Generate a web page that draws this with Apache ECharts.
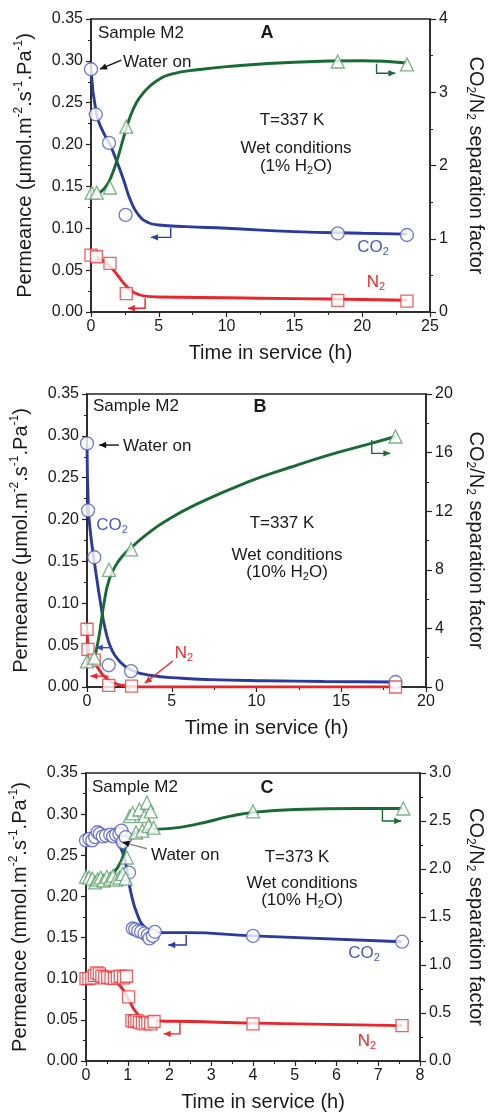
<!DOCTYPE html>
<html><head><meta charset="utf-8">
<script src="https://cdn.jsdelivr.net/npm/echarts@6/dist/echarts.min.js"></script>
<style>html,body{margin:0;padding:0;background:#fff}#c{width:496px;height:1115px}</style>
</head><body><div id="c"></div>
<script>
// ---------- DATA ----------
// Panel A : 337 K, 1% H2O
const A_co2 = [[0,0.290],[0.35,0.236],[1.33,0.202],[2.55,0.116],[18.2,0.094],[23.3,0.092]];
const A_n2  = [[0,0.068],[0.4,0.066],[1.4,0.058],[2.6,0.022],[18.2,0.014],[23.3,0.013]];
const A_sf  = [[0.05,1.63],[0.42,1.63],[1.4,1.70],[2.6,2.53],[18.2,3.42],[23.3,3.38]];
const A_co2Fit = [[0,0.290],[0.4,0.237],[0.9,0.215],[1.4,0.200],[1.9,0.180],[2.4,0.158],[2.9,0.134],[3.5,0.116],[4.2,0.107],[5,0.104],[7,0.102],[10,0.100],[15,0.096],[20,0.094],[23.3,0.093]];
const A_n2Fit  = [[0,0.068],[0.5,0.064],[1.0,0.060],[1.5,0.053],[2.0,0.043],[2.6,0.031],[3.2,0.023],[4.0,0.019],[5,0.018],[10,0.017],[15,0.016],[20,0.015],[23.3,0.014]];
const A_sfFit  = [[0.67,1.63],[1.2,1.74],[1.6,1.9],[2.0,2.12],[2.4,2.38],[2.8,2.62],[3.3,2.84],[3.9,3.0],[4.8,3.15],[6.0,3.25],[8,3.31],[10,3.35],[15,3.41],[20,3.43],[23.3,3.40]];

// Panel B : 337 K, 10% H2O
const B_co2 = [[0,0.291],[0.06,0.211],[0.43,0.155],[1.28,0.026],[2.6,0.019],[18.2,0.006]];
const B_n2  = [[0,0.069],[0.06,0.045],[0.43,0.032],[1.28,0.002],[2.63,0.001],[18.2,0.0]];
const B_sf  = [[0,1.75],[0.43,2.0],[1.3,8.0],[2.6,9.4],[18.2,17.1]];
const B_co2Fit = [[0,0.291],[0.08,0.215],[0.2,0.185],[0.43,0.150],[0.8,0.100],[1.09,0.068],[1.47,0.044],[1.96,0.030],[2.54,0.021],[3.7,0.014],[5.6,0.0104],[7.3,0.0088],[10.5,0.0075],[14,0.0066],[18.2,0.006]];
const B_n2Fit  = [[0,0.069],[0.08,0.045],[0.17,0.036],[0.6,0.024],[1.0,0.013],[1.57,0.005],[2.35,0.001],[3.2,0],[18.2,0]];
const B_sfFit  = [[0.45,2.0],[0.7,3.4],[1.0,5.7],[1.3,7.3],[1.7,8.3],[2.1,8.95],[2.6,9.5],[3.5,10.4],[4.6,11.3],[6.5,12.5],[9.5,14.0],[12,15.0],[14.3,15.85],[16.5,16.55],[18.2,17.1]];

// Panel C : 373 K, 10% H2O
const C_co2 = [[0.0,0.268],[0.08,0.270],[0.15,0.268],[0.22,0.272],[0.28,0.278],[0.33,0.276],[0.40,0.273],[0.48,0.274],[0.58,0.275],[0.65,0.273],[0.72,0.275],[0.80,0.276],[0.85,0.280],[0.88,0.266],[0.95,0.272],[1.03,0.229],[1.12,0.161],[1.18,0.160],[1.25,0.158],[1.32,0.157],[1.40,0.155],[1.48,0.153],[1.52,0.149],[1.60,0.152],[1.65,0.157],[4.0,0.152],[7.57,0.145]];
const C_n2  = [[0.0,0.100],[0.07,0.100],[0.14,0.101],[0.2,0.104],[0.26,0.107],[0.32,0.106],[0.38,0.103],[0.45,0.101],[0.52,0.102],[0.6,0.101],[0.68,0.100],[0.75,0.102],[0.82,0.103],[0.9,0.101],[0.97,0.103],[1.02,0.078],[1.1,0.049],[1.16,0.048],[1.22,0.049],[1.28,0.047],[1.35,0.046],[1.42,0.045],[1.48,0.047],[1.55,0.045],[1.63,0.048],[4.0,0.045],[7.57,0.043]];
const C_sf  = [[0.0,1.92],[0.07,1.91],[0.15,1.90],[0.22,1.86],[0.28,1.89],[0.35,1.91],[0.42,1.88],[0.5,1.92],[0.58,1.90],[0.65,1.93],[0.72,1.89],[0.8,1.91],[0.88,1.95],[0.95,1.90],[0.98,2.12],[1.05,2.55],[1.12,2.58],[1.2,2.38],[1.28,2.62],[1.35,2.40],[1.4,2.55],[1.46,2.69],[1.5,2.45],[1.55,2.60],[1.62,2.43],[4.0,2.60],[7.6,2.63]];
const C_co2Fit = [[0.6,0.274],[0.84,0.258],[0.99,0.230],[1.07,0.206],[1.23,0.178],[1.42,0.162],[1.66,0.156],[2.4,0.156],[4.0,0.152],[7.57,0.145]];
const C_n2Fit  = [[0.56,0.102],[0.84,0.090],[1.03,0.074],[1.19,0.060],[1.42,0.051],[1.66,0.049],[2.5,0.048],[4.0,0.046],[7.57,0.043]];
const C_sfFit  = [[0.64,1.95],[0.84,2.08],[0.99,2.28],[1.15,2.37],[1.5,2.41],[1.97,2.42],[2.68,2.47],[3.46,2.55],[4.0,2.59],[5.0,2.62],[6.5,2.63],[7.6,2.63]];

// axis ranges / ticks
const xMax = [25, 20, 8], xInt = [5, 5, 1];
const lMax = 0.35, lInt = 0.05;
const rMax = [4, 20, 3], rInt = [1, 4, 0.5], rDec = [0, 0, 1];
const leftNames = ['Permeance (μmol.m{p|-2}.s{p|-1}.Pa{p|-1})','Permeance (μmol.m{p|-2}.s{p|-1}.Pa{p|-1})','Permeance (mmol.m{p|-2}.s{p|-1}.Pa{p|-1})'];
const rightName = 'CO{b|2}/N{b|2} separation factor';
const xName = 'Time in service (h)';

// annotation arrows in data coordinates: [panel, 'l'|'r', points, color, headColor]
const arrows = [
  [0,'l',[[2.24,0.301],[0.66,0.290]],'#111'],
  [0,'l',[[5.88,0.1007],[5.88,0.0892],[4.42,0.0892]],'#2b3a9e'],
  [0,'l',[[3.99,0.0164],[3.99,0.0044],[2.72,0.0044]],'#e8262b'],
  [0,'r',[[21.06,3.39],[21.06,3.26],[22.45,3.26]],'#1d6b34'],
  [1,'l',[[1.88,0.289],[0.72,0.289]],'#111'],
  [1,'l',[[1.45,0.047],[0.52,0.047]],'#3b4ab0'],
  [1,'l',[[1.28,0.013],[0.2,0.013]],'#e8262b'],
  [1,'l',[[5.06,0.031],[3.41,0.0044]],'#e8262b'],
  [1,'r',[[16.8,16.86],[16.8,15.95],[17.9,15.95]],'#1d6b34'],
  [2,'l',[[1.46,0.258],[0.87,0.266]],'#888','#111'],
  [2,'l',[[2.40,0.153],[2.40,0.141],[1.97,0.141]],'#2b3a9e'],
  [2,'l',[[2.25,0.048],[2.25,0.033],[1.86,0.033]],'#e8262b'],
  [2,'r',[[7.10,2.62],[7.10,2.50],[7.55,2.50]],'#1d6b34']
];

// ---------- STYLE ----------
const FONT = '"Liberation Sans", Arial, Helvetica, sans-serif';
const INK = '#1a1a1a';
const BLUE = '#2b3a9e', BLUE_M = '#4d58c2';
const RED = '#e8262b', RED_M = '#e5383c';
const GREEN = '#176b33', GREEN_M = '#5a9f68';
const grids = [
  {left:91, top:19, width:343, height:293},
  {left:87, top:394, width:344, height:293},
  {left:86, top:773, width:341, height:292}
];
const rGap = [34, 38, 44];

const chart = echarts.init(document.getElementById('c'), null, {renderer:'canvas'});
const axLine = {lineStyle:{color:'#222', width:1.5}};
const option = {
  backgroundColor:'#fff', animation:false,
  textStyle:{fontFamily:FONT},
  grid: grids.map(g => Object.assign({show:true, borderColor:'#222', borderWidth:1.5, containLabel:false}, g)),
  xAxis: [0,1,2].map(i => ({
    type:'value', gridIndex:i, min:0, max:xMax[i], interval:xInt[i],
    name:xName, nameLocation:'middle', nameGap:29,
    nameTextStyle:{fontSize:20, color:INK, fontFamily:FONT, padding:[0,0,0,20], lineHeight:24},
    axisLine:axLine, axisTick:{length:5, lineStyle:{color:'#222', width:1.2}},
    minorTick:{show:true, splitNumber:2, length:3, lineStyle:{color:'#222', width:1}},
    axisLabel:{fontSize:16, color:INK, fontFamily:FONT, margin:7},
    splitLine:{show:false}
  })),
  yAxis: [],
  series: [],
  graphic: []
};
for (let i=0;i<3;i++){
  option.yAxis.push({
    type:'value', gridIndex:i, position:'left', min:0, max:lMax, interval:lInt,
    name:leftNames[i], nameLocation:'middle', nameGap:54, nameRotate:90,
    nameTextStyle:{fontSize:20, color:INK, fontFamily:FONT, lineHeight:24,
      rich:{p:{fontSize:12, lineHeight:13, verticalAlign:'top', color:INK, fontFamily:FONT}}},
    axisLine:axLine, axisTick:{length:5, lineStyle:{color:'#222', width:1.2}},
    minorTick:{show:true, splitNumber:2, length:3, lineStyle:{color:'#222', width:1}},
    axisLabel:{fontSize:16, color:INK, fontFamily:FONT, margin:8, formatter:v=>v.toFixed(2)},
    splitLine:{show:false}
  });
  option.yAxis.push({
    type:'value', gridIndex:i, position:'right', min:0, max:rMax[i], interval:rInt[i],
    name:rightName, nameLocation:'middle', nameGap:rGap[i], nameRotate:-90,
    nameTextStyle:{fontSize:20, color:INK, fontFamily:FONT, lineHeight:24,
      rich:{b:{fontSize:12, lineHeight:12, verticalAlign:'bottom', color:INK, fontFamily:FONT}}},
    axisLine:axLine, axisTick:{length:6, lineStyle:{color:'#222', width:1.2}},
    minorTick:{show:true, splitNumber:2, length:3, lineStyle:{color:'#222', width:1}},
    axisLabel:{fontSize:16, color:INK, fontFamily:FONT, margin:9, formatter:v=>v.toFixed(rDec[i])},
    splitLine:{show:false}
  });
}
const panels = [
  [A_co2Fit, A_n2Fit, A_sfFit, A_co2, A_n2, A_sf],
  [B_co2Fit, B_n2Fit, B_sfFit, B_co2, B_n2, B_sf],
  [C_co2Fit, C_n2Fit, C_sfFit, C_co2, C_n2, C_sf]
];
panels.forEach((p,i) => {
  const L = 2*i, R = 2*i+1;
  const fit = (d, y, c) => ({type:'line', xAxisIndex:i, yAxisIndex:y, data:d, smooth:0.5,
    showSymbol:false, symbol:'none', lineStyle:{color:c, width:2.9}, z:2, silent:true});
  const sc = (d, y, sym, size, c) => ({type:'scatter', xAxisIndex:i, yAxisIndex:y, data:d, symbol:sym, symbolSize:size,
    itemStyle:{color:'#fff', borderColor:c, borderWidth:1.3}, z:3, silent:true});
  option.series.push(fit(p[0], L, BLUE), fit(p[1], L, RED), fit(p[2], R, GREEN),
    sc(p[3], L, 'circle', 13, BLUE_M), sc(p[4], L, 'rect', 12, RED_M), sc(p[5], R, 'triangle', 13, GREEN_M));
});

// text annotations (pixel placement)
function txt(x,y,t,o){
  o = o || {};
  const rich = {s:{fontSize:11, lineHeight:10, verticalAlign:'bottom', fontFamily:FONT, fill:o.color||INK}};
  return {type:'text', x:x, y:y, z:20, silent:true,
    style:{text:t, fontSize:o.size||17, fontWeight:o.bold?'bold':'normal', fontFamily:FONT,
      fill:o.color||INK, align:o.align||'center', verticalAlign:'middle', lineHeight:20, rich:rich}};
}
option.graphic.push(
  txt(98,33,'Sample M2',{align:'left'}), txt(267,33,'A',{bold:true,size:18}),
  txt(123,62,'Water on',{align:'left'}), txt(292,120,'T=337 K'),
  txt(296,148,'Wet conditions'), txt(296,166,'(1% H{s|2}O)'),
  txt(373,247,'CO{s|2}',{color:BLUE_M}), txt(376,282,'N{s|2}',{color:RED}),

  txt(93,406,'Sample M2',{align:'left'}), txt(260,407,'B',{bold:true,size:18}),
  txt(123,446,'Water on',{align:'left'}), txt(112,525,'CO{s|2}',{color:BLUE_M}),
  txt(282,523,'T=337 K'), txt(287,555,'Wet conditions'), txt(287,572,'(10% H{s|2}O)'),
  txt(184,653,'N{s|2}',{color:RED}),

  txt(92,787,'Sample M2',{align:'left'}), txt(267,788,'C',{bold:true,size:18}),
  txt(151,855,'Water on',{align:'left'}), txt(297,857,'T=373 K'),
  txt(302,883,'Wet conditions'), txt(302,900,'(10% H{s|2}O)'),
  txt(364,953,'CO{s|2}',{color:BLUE_M}), txt(367,1041,'N{s|2}',{color:RED})
);
chart.setOption(option);

// arrows placed through the axes' own scales
const g2 = [];
arrows.forEach(a => {
  const [pi, side, pts, col, headCol] = a;
  const sIdx = pi*6 + (side === 'l' ? 0 : 2);
  const px = pts.map(pt => chart.convertToPixel({seriesIndex:sIdx}, pt));
  g2.push({type:'polyline', z:15, silent:true, shape:{points:px},
    style:{stroke:col, lineWidth:1.4, fill:null}});
  const t = px[px.length-1], s = px[px.length-2];
  const dx = t[0]-s[0], dy = t[1]-s[1], len = Math.hypot(dx,dy) || 1;
  const ux = dx/len, uy = dy/len, nx = -uy, ny = ux, HL = 7, HW = 3.2;
  g2.push({type:'polygon', z:16, silent:true, shape:{points:[
    [t[0], t[1]],
    [t[0]-HL*ux+HW*nx, t[1]-HL*uy+HW*ny],
    [t[0]-HL*ux-HW*nx, t[1]-HL*uy-HW*ny]]},
    style:{fill:headCol||col, stroke:null}});
});
chart.setOption({graphic: option.graphic.concat(g2)});
</script></body></html>
